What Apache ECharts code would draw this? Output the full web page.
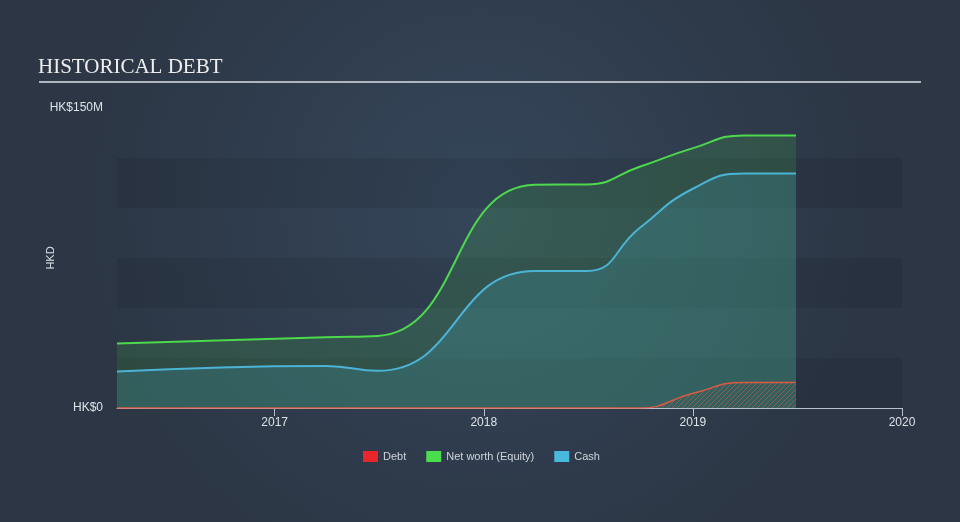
<!DOCTYPE html>
<html>
<head>
<meta charset="utf-8">
<script src="https://cdn.jsdelivr.net/npm/echarts@6/dist/echarts.min.js"></script>
<style>
html,body{margin:0;padding:0;background:#303c4c;}
#chart{width:960px;height:522px;}
</style>
</head>
<body>
<div id="chart"></div>
<script>
// ---- data (HK$ millions) ----
var dates = ['2016-03-31','2017-03-31','2017-06-30','2018-03-31','2018-06-30','2018-09-30','2018-12-31','2019-03-31','2019-06-30'];
var debt = [0, 0, 0, 0, 0, 0, 7.2, 12.8, 12.8];
var netWorth = [32.3, 35.4, 36.0, 111.6, 111.8, 120.6, 129.8, 136.3, 136.3];
var cash = [18.2, 21.0, 18.6, 68.5, 68.5, 90.0, 109.5, 117.3, 117.3];
var yearTicks = [2017, 2018, 2019, 2020];
var xStart = '2016-03-31';
var xEnd = '2020-01-01';
var seriesNames = ['Debt', 'Net worth (Equity)', 'Cash'];

// convert a date string to a decimal year (time position on the x axis)
function yearFrac(s){
  var p = s.split('-'), y = +p[0];
  var t0 = Date.UTC(y, 0, 1), t1 = Date.UTC(y + 1, 0, 1), t = Date.UTC(y, +p[1]-1, +p[2]);
  return y + (t - t0) / (t1 - t0);
}
function pairs(vals){ return dates.map(function(d,i){ return [yearFrac(d), vals[i]]; }); }

// hatch pattern for debt area
var pc = document.createElement('canvas');
pc.width = 5; pc.height = 5;
var g = pc.getContext('2d');
g.strokeStyle = 'rgba(222,95,72,0.75)';
g.lineWidth = 1;
g.beginPath();
g.moveTo(-1, 6); g.lineTo(6, -1);
g.moveTo(-1, 1); g.lineTo(1, -1);
g.moveTo(4, 6); g.lineTo(6, 4);
g.stroke();

var chart = echarts.init(document.getElementById('chart'), null, {renderer: 'canvas'});
chart.setOption({
  animation: false,
  backgroundColor: {type: 'radial', x: 0.5, y: 0.4, r: 0.75,
    colorStops: [{offset: 0, color: '#35465a'}, {offset: 1, color: '#2c3645'}]},
  title: {
    text: 'HISTORICAL DEBT', left: 38, top: 57, padding: 0,
    textStyle: {fontFamily: 'Liberation Serif', fontSize: 21, fontWeight: 'normal', color: '#eeeeee'}
  },
  graphic: [{
    type: 'rect', shape: {x: 39, y: 81, width: 882, height: 2},
    style: {fill: '#aeb5bd'}, silent: true
  }],
  legend: {
    bottom: 55, left: 358, icon: 'rect', itemWidth: 15, itemHeight: 11, itemGap: 20,
    textStyle: {color: '#cfd4da', fontSize: 11, fontFamily: 'Liberation Sans'},
    data: seriesNames
  },
  grid: {left: 117, right: 58, top: 108, bottom: 114},
  xAxis: {
    type: 'value',
    min: yearFrac(xStart), max: yearFrac(xEnd),
    axisLine: {show: true, lineStyle: {color: '#b8c2cc', width: 1}},
    axisTick: {show: true, inside: false, length: 8, lineStyle: {color: '#b8c2cc'}, customValues: yearTicks},
    axisLabel: {color: '#dde2e7', fontSize: 12, fontFamily: 'Liberation Sans', margin: 9,
      customValues: yearTicks,
      formatter: function(v){ return String(Math.round(v)); }},
    splitLine: {show: false}
  },
  yAxis: {
    type: 'value', min: 0, max: 150, interval: 25,
    name: 'HKD', nameLocation: 'middle', nameGap: 61, nameMoveOverlap: false,
    nameTextStyle: {color: '#dde2e7', fontSize: 11, fontFamily: 'Liberation Sans'},
    axisLine: {show: false}, axisTick: {show: false},
    axisLabel: {color: '#dde2e7', fontSize: 12, fontFamily: 'Liberation Sans', margin: 14,
      formatter: function(v){ return (v === 0 || v === 150) ? ('HK$' + (v === 0 ? '0' : v + 'M')) : ''; }},
    splitLine: {show: false},
    splitArea: {show: true, areaStyle: {color: ['rgba(0,0,0,0.08)', 'rgba(0,0,0,0)']}}
  },
  series: [
    {
      name: seriesNames[1], type: 'line', data: pairs(netWorth), smooth: 0.5, showSymbol: false, z: 2,
      itemStyle: {color: '#4ade4e'},
      lineStyle: {color: '#4cd94c', width: 2},
      areaStyle: {color: 'rgba(71,200,79,0.24)'}
    },
    {
      name: seriesNames[2], type: 'line', data: pairs(cash), smooth: 0.5, showSymbol: false, z: 3,
      itemStyle: {color: '#48b8dc'},
      lineStyle: {color: '#4bb4d6', width: 2},
      areaStyle: {color: 'rgba(73,167,187,0.32)'}
    },
    {
      name: seriesNames[0], type: 'line', data: pairs(debt), smooth: 0.5, showSymbol: false, z: 4,
      itemStyle: {color: '#e8262b'},
      lineStyle: {color: '#dc5a44', width: 1.5},
      areaStyle: {color: {image: pc, repeat: 'repeat'}}
    }
  ]
});
</script>
</body>
</html>
